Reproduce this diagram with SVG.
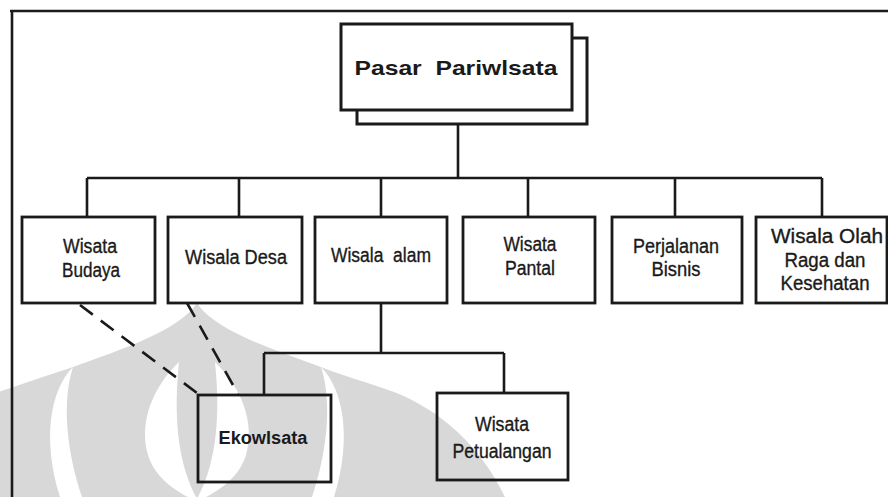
<svg xmlns="http://www.w3.org/2000/svg" width="888" height="497" viewBox="0 0 888 497">
<style>
.box{fill:none;stroke:#1a1a1a;stroke-width:2.8}
.boxw{fill:#fff;stroke:#1a1a1a;stroke-width:3}
.ln{fill:none;stroke:#1a1a1a;stroke-width:2.6}
.dash{fill:none;stroke:#1a1a1a;stroke-width:2.6;stroke-dasharray:16 10}
.t{font-family:"Liberation Sans",Arial,sans-serif;font-size:20px;fill:#1a1a1a;stroke:#1a1a1a;stroke-width:0.35;text-anchor:middle;white-space:pre}
.b{font-family:"Liberation Sans",Arial,sans-serif;font-weight:bold;fill:#1a1a1a;text-anchor:middle;white-space:pre}
.wm{fill:#d8d8d8}
.wh{fill:#fff}
</style>
<rect x="0" y="0" width="888" height="497" fill="#fff"/>
<g id="watermark">
<path class="wm" d="M197 303 C180 330 120 350 73 367 C40 378 10 388 -10 395 L-10 497 L505 497 C480 445 440 410 394 392 C370 383 340 375 321 367 C274 350 214 330 197 303 Z"/>
<path class="wh" d="M73 367 C50 390 42 440 60 497 L82 497 C66 450 62 400 73 367 Z"/>
<path class="wh" d="M321 367 C344 390 352 440 334 497 L312 497 C328 450 332 400 321 367 Z"/>
<path class="wh" d="M179 362 C155 385 138 420 148 455 C155 478 175 490 188 497 L196 497 C182 470 172 430 179 362 Z"/>
<path class="wh" d="M215 362 C239 385 256 420 246 455 C239 478 219 490 206 497 L198 497 C212 470 222 430 215 362 Z"/>
</g>
<g id="frame">
<path class="ln" d="M10 11 H888 M12 11 V497"/>
</g>
<g id="connectors">
<path class="ln" d="M458 124 V178 M87 178 H822 M87 178 V217 M239 178 V217 M381 178 V217 M528 178 V217 M675 178 V217 M822 178 V217"/>
<path class="ln" d="M381 303 V353 M264 353 H504 M264 353 V395 M504 353 V393"/>
<path class="dash" d="M80 305 L197 393"/>
<path class="dash" d="M187 303 L238 394"/>
</g>
<g id="pasar-pariwisata">
<rect class="boxw" x="357" y="38" width="230" height="86"/>
<rect class="boxw" x="341" y="24" width="231" height="86"/>
<text class="b" x="456" y="75" font-size="21" textLength="203" lengthAdjust="spacingAndGlyphs" xml:space="preserve">Pasar  Pariwlsata</text>
</g>
<g id="wisata-budaya">
<rect class="box" x="22" y="217" width="133" height="86"/>
<text class="t" x="90" y="253" textLength="54" lengthAdjust="spacingAndGlyphs">Wisata</text>
<text class="t" x="91" y="277" textLength="58" lengthAdjust="spacingAndGlyphs">Budaya</text>
</g>
<g id="wisata-desa">
<rect class="box" x="168" y="217" width="134" height="86"/>
<text class="t" x="236" y="264" textLength="102" lengthAdjust="spacingAndGlyphs">Wisala Desa</text>
</g>
<g id="wisata-alam">
<rect class="box" x="315" y="217" width="132" height="86"/>
<text class="t" x="381" y="262" textLength="100" lengthAdjust="spacingAndGlyphs" xml:space="preserve">Wisala  alam</text>
</g>
<g id="wisata-pantai">
<rect class="box" x="463" y="217" width="132" height="86"/>
<text class="t" x="530" y="251" textLength="53" lengthAdjust="spacingAndGlyphs">Wisata</text>
<text class="t" x="530" y="275" textLength="50" lengthAdjust="spacingAndGlyphs">Pantal</text>
</g>
<g id="perjalanan-bisnis">
<rect class="box" x="612" y="217" width="130" height="86"/>
<text class="t" x="676" y="253" textLength="86" lengthAdjust="spacingAndGlyphs">Perjalanan</text>
<text class="t" x="676" y="276" textLength="49" lengthAdjust="spacingAndGlyphs">Bisnis</text>
</g>
<g id="wisata-olahraga">
<rect class="box" x="756" y="217" width="131" height="86"/>
<text class="t" x="827" y="243" textLength="112" lengthAdjust="spacingAndGlyphs">Wisala Olah</text>
<text class="t" x="825" y="267" textLength="81" lengthAdjust="spacingAndGlyphs">Raga dan</text>
<text class="t" x="825" y="290" textLength="89" lengthAdjust="spacingAndGlyphs">Kesehatan</text>
</g>
<g id="ekowisata">
<rect class="box" x="198" y="395" width="133" height="87" stroke-width="3.5"/>
<text class="b" x="263" y="444" font-size="18" textLength="89" lengthAdjust="spacingAndGlyphs">Ekowlsata</text>
</g>
<g id="wisata-petualangan">
<rect class="box" x="437" y="393" width="131" height="87"/>
<text class="t" x="502" y="431" textLength="54" lengthAdjust="spacingAndGlyphs">Wisata</text>
<text class="t" x="502" y="458" textLength="99" lengthAdjust="spacingAndGlyphs">Petualangan</text>
</g>
</svg>
